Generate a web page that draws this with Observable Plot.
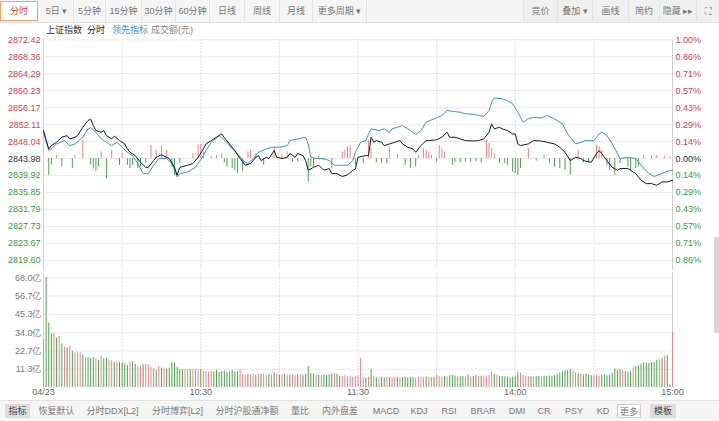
<!DOCTYPE html>
<html><head><meta charset="utf-8">
<script src="https://cdn.jsdelivr.net/npm/d3@7"></script>
<script src="https://cdn.jsdelivr.net/npm/@observablehq/plot@0.6"></script>
<style>
html,body{margin:0;padding:0;background:#fff;}
body{width:719px;height:421px;position:relative;overflow:hidden;font-family:"Liberation Sans","Noto Sans CJK SC",Arial,sans-serif;}
.bar{position:absolute;left:0;width:719px;background:#f5f5f5;}
.btn{position:absolute;top:0;height:22px;line-height:22px;text-align:center;font-size:9px;color:#777;border-right:1px solid #e3e3e3;box-sizing:border-box;white-space:nowrap;}
.sel{color:#e0452c;border:1px solid #f2a46b;background:#fff;top:1px;height:20px;line-height:18px;}
.leg{position:absolute;top:24px;font-size:9px;line-height:12px;white-space:nowrap;}
.tab{position:absolute;top:404px;height:14px;line-height:14px;font-size:9px;color:#777;white-space:nowrap;text-align:center;}
#price,#vol{position:absolute;left:0;}
#price{top:22px;}
#vol{top:270px;}
</style></head>
<body>
<div class="bar" style="top:0;height:22px;border-bottom:1px solid #e2e2e2;" id="topbar"></div>
<div id="legend"></div>
<div id="price"></div>
<div id="vol"></div>
<div class="bar" style="top:400px;height:21px;border-top:1px solid #e2e2e2;" id="botbar"></div>
<div style="position:absolute;left:714px;top:237px;width:5px;height:96px;background:#d6d6d6;"></div>
<script>
// ---------- data ----------
const base = 2843.98;
const priceTicks = [2872.42,2868.36,2864.29,2860.23,2856.17,2852.11,2848.04,2843.98,2839.92,2835.85,2831.79,2827.73,2823.67,2819.60];
const pctLabels = ["1.00%","0.86%","0.71%","0.57%","0.43%","0.29%","0.14%","0.00%","0.14%","0.29%","0.43%","0.57%","0.71%","0.86%"];
const volTicks = [11.33,22.67,34.0,45.33,56.67,68.0];
const volLabels = ["11.3亿","22.7亿","34.0亿","45.3亿","56.7亿","68.0亿"];
const timeTicks = [0,60,120,180,240];
const timeLabels = ["04/23","10:30","11:30","14:00","15:00"];
const gridMinutes = [30,60,90,120,150,180,210];

// price (minute index, index value)
const price = [[0,2850.7],[2,2846.3],[3,2847.1],[5,2847.9],[7,2849.1],[9,2849.5],[10,2848.7],[12,2849.1],[13,2849.5],[15,2851.5],[17,2853.1],[18,2853.4],[19,2851.9],[20,2850.7],[22,2850.3],[23,2850.7],[24,2849.5],[26,2848.7],[27,2849.4],[29,2848.3],[30,2847.9],[31,2847.5],[32,2846.3],[33,2845.5],[35,2844.7],[37,2843.1],[39,2841.9],[40,2841.9],[42,2843.5],[43,2844.3],[45,2844.9],[47,2844.3],[48,2844.0],[50,2841.9],[51,2840.0],[52,2841.9],[55,2842.4],[57,2842.8],[59,2844.3],[61,2846.3],[62,2847.5],[64,2848.3],[66,2849.1],[68,2849.9],[69,2849.0],[71,2847.5],[73,2845.9],[75,2844.0],[77,2842.4],[79,2842.8],[81,2844.3],[82,2844.7],[83,2843.5],[85,2844.3],[86,2844.0],[88,2845.9],[89,2844.3],[91,2844.0],[93,2844.3],[94,2845.2],[96,2844.3],[97,2845.2],[99,2844.7],[100,2843.5],[101,2841.2],[103,2841.9],[105,2842.4],[107,2841.2],[109,2841.6],[110,2840.4],[112,2840.4],[114,2839.7],[116,2840.1],[118,2841.2],[119,2841.5],[120,2844.3],[123,2844.7],[124,2844.7],[125,2849.1],[126,2847.9],[127,2848.3],[129,2847.9],[130,2847.1],[132,2847.5],[134,2847.9],[136,2848.3],[137,2847.5],[139,2846.7],[141,2846.3],[142,2845.5],[144,2847.1],[146,2848.3],[147,2848.3],[150,2848.5],[152,2849.1],[154,2850.3],[155,2849.1],[157,2849.1],[159,2848.7],[161,2848.3],[164,2848.2],[166,2848.3],[168,2848.7],[170,2850.3],[171,2852.3],[172,2851.1],[174,2851.5],[175,2851.1],[177,2850.7],[179,2849.9],[180,2849.9],[181,2847.5],[182,2847.1],[185,2847.5],[187,2848.3],[190,2848.2],[192,2847.9],[195,2847.5],[197,2846.7],[199,2845.5],[201,2843.5],[203,2844.3],[205,2844.0],[206,2843.5],[209,2843.1],[211,2845.2],[212,2845.9],[213,2845.2],[215,2843.5],[217,2841.9],[219,2841.2],[220,2841.6],[223,2841.6],[226,2840.4],[228,2838.8],[230,2838.0],[232,2838.0],[234,2837.6],[236,2838.4],[238,2838.4],[240,2838.8]];

// leading indicator
const lead = [[0,2850.3],[2,2845.9],[5,2847.5],[8,2848.3],[10,2847.1],[12,2847.5],[15,2849.1],[17,2851.1],[18,2851.4],[20,2850.3],[22,2848.7],[23,2848.3],[24,2847.9],[26,2847.1],[28,2847.9],[30,2846.7],[32,2845.5],[34,2844.7],[36,2842.8],[38,2840.4],[40,2840.4],[42,2842.4],[44,2844.0],[47,2844.0],[49,2842.8],[51,2839.6],[52,2840.4],[55,2840.8],[58,2841.9],[61,2844.7],[62,2845.9],[64,2847.9],[67,2849.5],[70,2847.9],[72,2846.3],[74,2845.2],[76,2843.5],[78,2842.8],[80,2844.0],[82,2845.5],[85,2846.3],[87,2846.7],[90,2846.7],[93,2847.1],[94,2848.3],[97,2848.7],[100,2849.1],[101,2847.5],[102,2844.3],[104,2844.0],[107,2844.0],[109,2843.5],[111,2842.4],[114,2842.4],[116,2842.4],[118,2843.5],[119,2845.5],[120,2846.7],[121,2847.9],[123,2848.3],[124,2849.9],[125,2851.1],[128,2850.7],[130,2851.1],[132,2850.3],[133,2851.1],[137,2851.9],[139,2851.1],[140,2850.7],[142,2849.8],[144,2850.7],[146,2852.7],[149,2853.5],[152,2854.3],[154,2855.5],[156,2855.3],[159,2855.1],[161,2854.7],[164,2854.6],[166,2854.3],[168,2854.1],[170,2855.5],[171,2857.5],[172,2858.5],[175,2858.3],[177,2857.9],[179,2857.1],[181,2855.1],[182,2853.9],[183,2852.7],[185,2853.5],[187,2853.9],[190,2853.7],[192,2854.3],[195,2853.5],[198,2852.3],[200,2849.9],[203,2847.5],[205,2847.9],[207,2848.3],[210,2848.3],[212,2849.9],[213,2850.3],[215,2849.5],[217,2847.5],[219,2845.2],[220,2844.0],[223,2844.3],[226,2844.0],[228,2842.4],[231,2840.4],[233,2839.7],[236,2840.4],[238,2841.0],[240,2841.2]];

// buy/sell strength bars around the previous close (minute, points)
const strength = [[2,-4.0],[3,-1.5],[5,0.8],[7,-2.0],[11,-2.4],[12,0.8],[15,4.4],[18,-1.5],[19,-2.5],[20,-3.0],[21,-2.0],[22,1.6],[24,-4.8],[26,2.0],[29,-1.6],[30,1.4],[32,-1.6],[33,-2.4],[34,-1.6],[36,-2.4],[37,-2.0],[39,-1.2],[41,3.2],[43,2.0],[45,3.2],[47,2.0],[49,-2.0],[50,-4.0],[52,-1.0],[57,1.2],[59,3.2],[60,3.4],[61,1.6],[64,0.6],[66,0.8],[68,1.2],[69,-1.0],[70,-2.0],[72,-2.4],[73,-2.8],[74,-3.6],[76,-3.2],[78,1.6],[79,2.0],[81,1.2],[84,-1.6],[88,2.8],[91,1.0],[93,1.6],[95,-0.8],[97,-0.8],[101,-5.6],[102,-2.0],[103,-2.0],[105,0.5],[107,-0.5],[110,-2.4],[114,1.6],[115,2.0],[116,2.8],[117,3.2],[119,-1.6],[122,-1.2],[124,4.4],[125,2.4],[127,-1.0],[129,-1.2],[131,-1.2],[132,2.8],[135,1.0],[138,-1.6],[140,-2.4],[142,-2.0],[143,0.8],[145,2.4],[146,2.0],[147,1.6],[148,0.8],[150,-0.8],[151,3.2],[152,2.4],[153,1.6],[156,-1.6],[157,-1.0],[159,-1.0],[161,-0.8],[163,-1.0],[165,-0.8],[167,-1.0],[169,4.4],[170,3.6],[171,2.4],[172,1.2],[174,-1.2],[176,-1.2],[177,-1.6],[179,-3.2],[180,-3.6],[181,-4.0],[182,-2.4],[185,2.4],[188,-0.6],[191,0.8],[193,-1.2],[195,-2.0],[197,-2.4],[199,-2.8],[201,-4.0],[204,2.0],[206,-1.0],[208,-1.0],[211,3.2],[212,2.8],[213,2.0],[215,-1.6],[216,-2.8],[218,-4.0],[220,-1.2],[223,-2.0],[224,-2.8],[226,-2.4],[227,-2.0],[229,0.8],[232,0.6],[234,0.8],[237,0.6],[239,0.5]];

// turnover per minute, 亿元
const volume = [29.6,68.1,40,33,33.5,30.5,31.5,27,25,24.5,25.5,22.5,21.5,22,21.5,20,18.5,18.5,18,18.5,18,16.7,19.3,17.7,18,16.7,16.5,15.6,16,15.4,15,14.5,13.6,15.6,16,14.4,13,13.2,14,14.4,14,12.6,11.5,10.5,13.2,12,11.5,11.5,12,15.6,15.2,12.6,11.1,11.1,11.1,11.1,11.1,11.1,11.1,11.1,11.1,
10.2,9.8,9.5,10.0,9.6,10.5,9.4,9.8,10.1,9.3,9.7,10.4,9.5,9.9,10.9,
8.2,7.6,8.0,7.8,8.4,7.5,8.1,7.9,8.3,7.4,8.0,7.7,9.0,8.2,7.6,7.9,8.3,7.5,7.8,8.1,7.4,7.9,8.0,7.6,
8.0,13.2,8.6,8.4,8.0,7.6,7.2,7.8,7.4,7.9,8.4,8.6,8.2,7.0,6.8,7.4,6.6,7.0,6.4,6.8,7.2,18.1,6.0,5.8,6.3,11.1,7.0,6.0,5.8,
6.2,5.9,6.4,6.0,5.8,6.3,6.1,5.9,6.2,6.5,6.0,6.3,6.1,5.8,6.4,6.2,6.0,6.5,6.3,6.1,6.4,
7.8,
6.8,6.4,7.0,6.6,7.2,7.5,6.9,6.5,6.8,7.0,6.7,7.8,6.6,6.9,7.4,6.8,
7.0,7.2,6.6,7.4,9.5,8.2,7.6,7.0,6.8,6.6,6.4,6.2,6.4,
6.6,9.5,8.9,7.4,
7.0,6.8,6.6,6.4,6.8,6.9,6.5,7.0,6.7,7.2,7.0,7.4,
8.0,9.0,9.8,10.4,10.6,11.1,10.2,
9.0,8.5,8.2,7.8,8.4,7.6,7.4,
7.2,7.6,7.0,7.4,7.8,7.2,7.6,8.4,
11.5,10.6,11.1,10.5,9.9,9.4,9.6,
12.5,13.0,13.6,14.6,15.2,15.2,15.0,15.4,15.6,
16.7,17.2,18.1,19.3,19.8,1.6,34.2];
// r = up minute, g = down minute
const direction = "rgggrgrgrg"+"rgrrrgrggg"+"rgrggrrgrg"+"gggrggrrgr"+"rrrgrgrggg"+"ggggrrgrrr"+"grrrrggggg"+"gggggrrrgr"+"rgrgrrgrgr"+"grgrgrrgrg"+"ggggrgrggg"+"grggrrrrrr"+"rrrgrgrgrg"+"grgrrgrggg"+"ggrrrrgrrg"+"rrrgrgggrg"+"grgrggrgrr"+"rrgrgggggg"+"ggrrrrgrgg"+"rggggggggg"+"ggrrgrgggg"+"rrrggggggg"+"grgggrgggg"+"gggggrgrgg"+"r";

const topButtons = [[0,38,"分时"],[40,74,"5日 ▾"],[74,106,"5分钟"],[106,142,"15分钟"],[142,176,"30分钟"],[176,210,"60分钟"],[210,245,"日线"],[245,280,"周线"],[280,313,"月线"],[313,367,"更多周期 ▾"],[523,558,"竞价"],[558,593,"叠加 ▾"],[593,629,"画线"],[629,660,"简约"],[660,697,"隐藏 ▸▸"],[697,719,"⛶"]];
const legendItems = [[46,"上证指数","#333"],[87,"分时","#222"],[112,"领先指标","#3a8fd0"],[151,"成交额(元)","#888"]];
const bottomTabs = [[5,30,"指标"],[35,78,"恢复默认"],[82,143,"分时DDX[L2]"],[147,208,"分时博弈[L2]"],[212,282,"分时沪股通净额"],[286,314,"量比"],[318,362,"内外盘差"],[368,404,"MACD"],[406,432,"KDJ"],[436,462,"RSI"],[466,500,"BRAR"],[504,530,"DMI"],[534,554,"CR"],[560,588,"PSY"],[592,614,"KD"],[617,641,"更多"],[650,676,"模板"]];

// ---------- chrome ----------
const tb = document.getElementById("topbar");
topButtons.forEach(([a,b,t],i)=>{
  const d=document.createElement("div");
  d.className="btn"+(i===0?" sel":"");
  d.style.left=a+"px"; d.style.width=(b-a)+"px"; d.textContent=t;
  if(i>=10){d.style.background="#f0f0f0";d.style.borderLeft=i===10?"1px solid #e3e3e3":"none";}
  tb.appendChild(d);
});
const lg = document.getElementById("legend");
legendItems.forEach(([x,t,c])=>{
  const s=document.createElement("div");s.className="leg";s.style.left=x+"px";s.style.color=c;s.textContent=t;
  lg.appendChild(s);
});
const bb = document.getElementById("botbar");
bottomTabs.forEach(([a,b,t])=>{
  const d=document.createElement("div");d.className="tab";d.style.top="3px";
  d.style.left=a+"px";d.style.width=(b-a)+"px";d.textContent=t;
  if(t==="指标"||t==="模板"){d.style.background="#dcdcdc";d.style.color="#444";}
  if(t==="更多"){d.style.border="1px solid #cfcfcf";d.style.background="#fff";d.style.boxSizing="border-box";}
  bb.appendChild(d);
});

// ---------- charts ----------
const BARRED="#e8858d", BARGREEN="#4ea24e";
const labelColor = v => v>base+0.01 ? "#d8404a" : (v<base-0.01 ? "#3a9a3a" : "#333");
const font = {fontSize:9, fontFamily:"Liberation Sans, Arial, sans-serif"};

const priceChart = Plot.plot({
  width:719, height:248, marginTop:17.3, marginBottom:10, marginLeft:43, marginRight:47,
  x:{domain:[0,240], axis:null},
  y:{domain:[2819.60,2872.42], axis:null},
  marks:[
    Plot.ruleY(priceTicks,{stroke:"#ebebeb"}),
    Plot.ruleX(gridMinutes,{y1:2872.42,y2:2815.6,stroke:"#d6d6d6",strokeDasharray:"1.5,1.5"}),
    Plot.ruleX([0,240],{y1:2872.42,y2:2815.6,stroke:"#d0d0d0"}),
    Plot.ruleX(strength,{x:d=>d[0],y1:base,y2:d=>base+d[1],stroke:d=>d[1]>0?BARRED:BARGREEN,strokeWidth:1}),
    Plot.line(lead,{x:d=>d[0],y:d=>d[1],stroke:"#3d93d1",strokeWidth:1}),
    Plot.line(price,{x:d=>d[0],y:d=>d[1],stroke:"#1a1a1a",strokeWidth:1}),
    Plot.text(priceTicks,{y:d=>d,frameAnchor:"left",dx:-3,textAnchor:"end",text:d=>d.toFixed(2),fill:labelColor,...font}),
    Plot.text(priceTicks,{y:d=>d,frameAnchor:"right",dx:3,textAnchor:"start",text:(d,i)=>pctLabels[i],fill:labelColor,...font})
  ]
});
document.getElementById("price").appendChild(priceChart);

const volChart = Plot.plot({
  width:719, height:130, marginTop:7.3, marginBottom:13, marginLeft:43, marginRight:47,
  x:{domain:[0,240], axis:null},
  y:{domain:[0,68], axis:null},
  marks:[
    Plot.ruleY(volTicks,{stroke:"#ebebeb"}),
    Plot.ruleX(gridMinutes,{y1:71,y2:0,stroke:"#d6d6d6",strokeDasharray:"1.5,1.5"}),
    Plot.ruleX([0,240],{y1:71,y2:0,stroke:"#d0d0d0"}),
    Plot.ruleX(volume,{x:(d,i)=>i,y1:0,y2:d=>d,stroke:(d,i)=>direction[i]==="r"?BARRED:BARGREEN,strokeWidth:1}),
    Plot.text(volTicks,{y:d=>d,frameAnchor:"left",dx:-2,textAnchor:"end",text:(d,i)=>volLabels[i],fill:"#777",...font}),
    Plot.text(timeTicks,{x:d=>d,frameAnchor:"bottom",dy:7,text:(d,i)=>timeLabels[i],fill:"#666",...font})
  ]
});
document.getElementById("vol").appendChild(volChart);
</script>
</body></html>
